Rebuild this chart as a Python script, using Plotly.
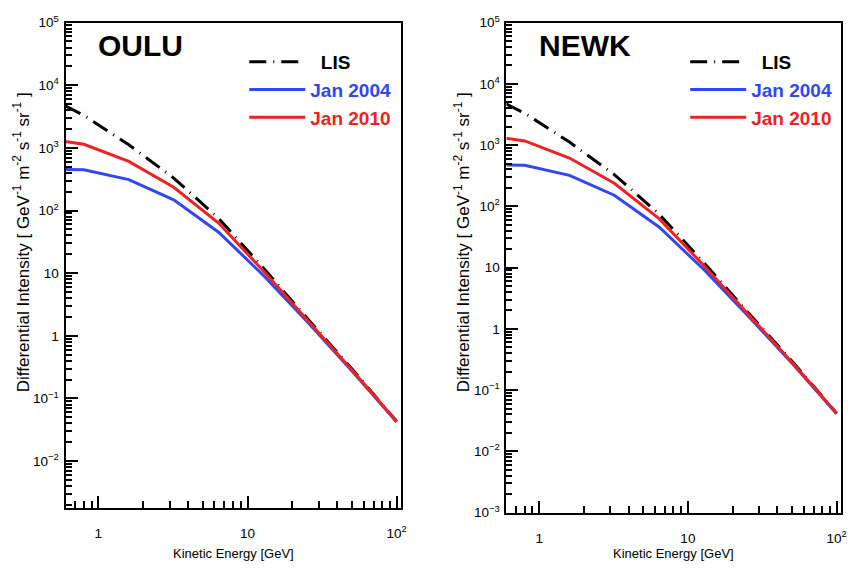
import plotly.graph_objects as go

# ---------------- data ----------------
energy = [0.6, 0.8, 1.6, 3.2, 6.4, 12.8, 25.6, 51.2, 100.0]

oulu_lis = [4700, 3300, 1120, 330, 75, 12.0, 1.8, 0.28, 0.043]
oulu_2004 = [450, 448, 312, 148, 45, 9.2, 1.6, 0.26, 0.042]
oulu_2010 = [1260, 1140, 610, 235, 63, 10.8, 1.7, 0.27, 0.043]

newk_lis = [4700, 3300, 1120, 330, 75, 12.0, 1.8, 0.28, 0.042]
newk_2004 = [475, 470, 320, 152, 46, 9.3, 1.6, 0.26, 0.041]
newk_2010 = [1290, 1170, 615, 238, 63, 10.8, 1.7, 0.27, 0.042]

panel_names = ["OULU", "NEWK"]
series_names = ["LIS", "Jan 2004", "Jan 2010"]

x_major = [1, 10, 100]
x_major_text = ["1", "10", "10<sup>2</sup>"]
y_major = [1e-3, 1e-2, 1e-1, 1, 10, 1e2, 1e3, 1e4, 1e5]
y_major_text = ["10<sup>\u22123</sup>", "10<sup>\u22122</sup>", "10<sup>\u22121</sup>", "1", "10",
                "10<sup>2</sup>", "10<sup>3</sup>", "10<sup>4</sup>", "10<sup>5</sup>"]

W, H = 858, 570
BLUE = "#2f48f2"
RED = "#ee2222"
FONT = "Liberation Sans, Arial, Helvetica, sans-serif"

# panel pixel boxes: left, right, top, bottom
boxes = [(66, 404, 13, 514), (510, 847, 13, 519)]
yranges = [(-2.745, 5.0), (-3.0, 5.0)]
xrange_log = (-0.22, 2.03)

x_minor = [v * d for d in (0.1, 1, 10) for v in range(2, 10) if 0.6 < v * d < 110 and v * d not in (1, 10, 100)]
y_minor = [v * 10.0 ** e for e in range(-4, 5) for v in range(2, 10)]

fig = go.Figure()

data = [(oulu_lis, oulu_2004, oulu_2010), (newk_lis, newk_2004, newk_2010)]

for i, (lis, j04, j10) in enumerate(data):
    xa = "x" if i == 0 else "x2"
    ya = "y" if i == 0 else "y2"
    lg = "legend" if i == 0 else "legend2"
    fig.add_trace(go.Scatter(x=energy, y=lis, mode="lines", xaxis=xa, yaxis=ya,
                             line=dict(color="black", width=3, dash="17px,7px,1px,7px"),
                             name="<b>\u00a0\u00a0" + series_names[0] + "</b>", legend=lg))
    fig.add_trace(go.Scatter(x=energy, y=j04, mode="lines", xaxis=xa, yaxis=ya,
                             line=dict(color=BLUE, width=3),
                             name="<b><span style='color:%s'>%s</span></b>" % (BLUE, series_names[1]), legend=lg))
    fig.add_trace(go.Scatter(x=energy, y=j10, mode="lines", xaxis=xa, yaxis=ya,
                             line=dict(color=RED, width=3),
                             name="<b><span style='color:%s'>%s</span></b>" % (RED, series_names[2]), legend=lg))

layout = dict(
    width=W, height=H, margin=dict(l=0, r=0, t=0, b=0),
    paper_bgcolor="white", plot_bgcolor="white",
    font=dict(family=FONT, color="black"),
    showlegend=True,
)

annotations = []
for i, (l, r, t, b) in enumerate(boxes):
    sfx = "" if i == 0 else "2"
    xd = [l / W, r / W]
    yd = [1 - b / H, 1 - t / H]
    layout["xaxis" + sfx] = dict(
        type="log", range=list(xrange_log), domain=xd, anchor="y" + sfx,
        showline=True, linecolor="black", linewidth=2, mirror=True,
        showgrid=False, zeroline=False,
        ticks="inside", ticklen=12, tickwidth=1.5, tickcolor="black",
        tickmode="array", tickvals=x_major, ticktext=x_major_text,
        tickfont=dict(size=13.5, family=FONT), ticklabelstandoff=12,
        minor=dict(ticks="inside", ticklen=7, tickwidth=1.5, tickcolor="black",
                   tickmode="array", tickvals=x_minor, showgrid=False),
    )
    layout["yaxis" + sfx] = dict(
        type="log", range=list(yranges[i]), domain=yd, anchor="x" + sfx,
        showline=True, linecolor="black", linewidth=2, mirror=True,
        showgrid=False, zeroline=False,
        ticks="inside", ticklen=12, tickwidth=1.5, tickcolor="black",
        tickmode="array", tickvals=y_major, ticktext=y_major_text,
        tickfont=dict(size=13.5, family=FONT), ticklabelstandoff=2,
        minor=dict(ticks="inside", ticklen=6, tickwidth=1.5, tickcolor="black",
                   tickmode="array", tickvals=y_minor, showgrid=False),
    )
    # legend
    lkey = "legend" if i == 0 else "legend2"
    layout[lkey] = dict(
        x=(l + 180) / W, y=1 - 34 / H, xanchor="left", yanchor="top",
        xref="paper", yref="paper",
        bgcolor="rgba(0,0,0,0)", borderwidth=0,
        font=dict(size=19, family=FONT, color="black"),
        itemwidth=56, tracegroupgap=0,
    )
    # panel name
    annotations.append(dict(text="<b>" + panel_names[i] + "</b>", x=(l + 31) / W, y=1 - 37 / H,
                            xref="paper", yref="paper", xanchor="left", yanchor="middle",
                            showarrow=False, font=dict(size=30, family=FONT, color="black")))
    # y title
    annotations.append(dict(text="Differential Intensity [ GeV<sup>-1</sup> m<sup>-2</sup> s<sup>-1</sup> sr<sup>-1</sup> ]",
                            x=(l - 44) / W, y=1 - 240 / H, xref="paper", yref="paper",
                            xanchor="center", yanchor="middle", textangle=-90, showarrow=False,
                            font=dict(size=17, family=FONT, color="black")))
    # x title
    annotations.append(dict(text="Kinetic Energy [GeV]", x=(l + r) / 2 / W, y=1 - 561 / H,
                            xref="paper", yref="paper", xanchor="center", yanchor="middle",
                            showarrow=False, font=dict(size=13, family=FONT, color="black")))

layout["annotations"] = annotations
fig.update_layout(**layout)
fig.write_html("out.html")
